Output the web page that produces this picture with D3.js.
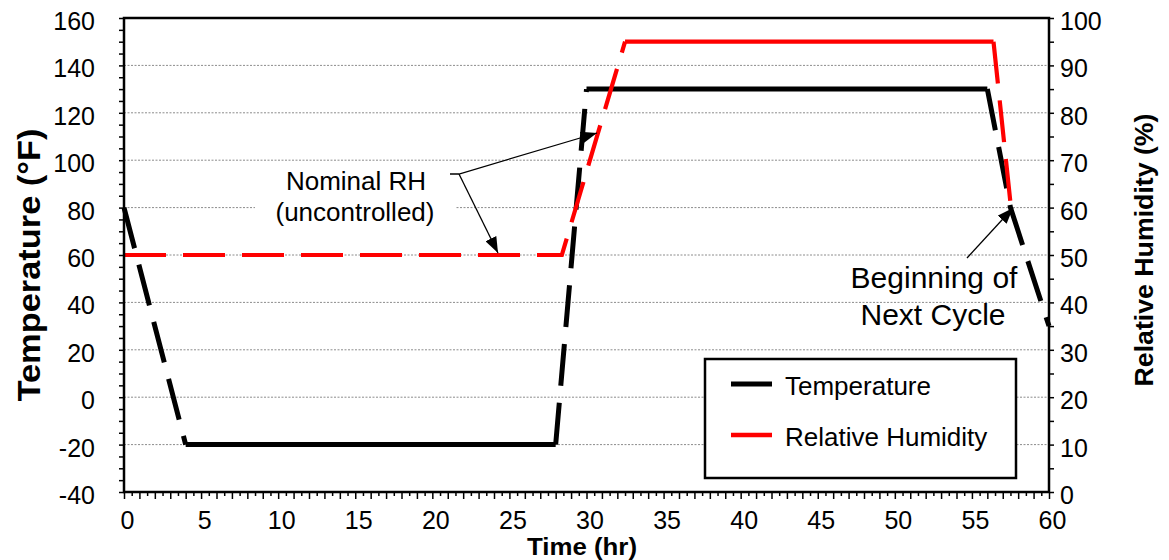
<!DOCTYPE html>
<html>
<head>
<meta charset="utf-8">
<script src="https://cdn.jsdelivr.net/npm/d3@7/dist/d3.min.js"></script>
<style>
  html, body { margin: 0; padding: 0; background: #fff; }
  svg { display: block; font-family: "Liberation Sans", Arial, Helvetica, sans-serif; }
</style>
</head>
<body>
<svg id="chart" width="1169" height="560"></svg>
<script>
// ---- Data ----
const tempTime   = [0, 4, 28, 30, 56, 57.5, 60];
const tempValues = [80, -20, -20, 130, 130, 80, 30];
const tempSolid  = [false, true, false, true, false, false]; // style per segment

const rhTime   = [0, 28.4, 32.5, 56.4, 57.5];
const rhValues = [50, 50, 95, 95, 61];
const rhSolid  = [false, false, true, false];

const xTickLabels    = [0, 5, 10, 15, 20, 25, 30, 35, 40, 45, 50, 55, 60];
const tempTickLabels = [-40, -20, 0, 20, 40, 60, 80, 100, 120, 140, 160];
const rhTickLabels   = [0, 10, 20, 30, 40, 50, 60, 70, 80, 90, 100];
const gridValues     = [-20, 0, 20, 40, 60, 80, 100, 120, 140];

const seriesNames = ["Temperature", "Relative Humidity"];

// ---- Layout ----
const L = 124, R = 1049, T = 18, B = 492;
const svg = d3.select("#chart");
const x = d3.scaleLinear().domain([0, 60]).range([L, R]);
const yT = d3.scaleLinear().domain([-40, 160]).range([B, T]);
const yH = d3.scaleLinear().domain([0, 100]).range([B, T]);
const FONT = 25;

// gridlines
svg.append("g").selectAll("line").data(gridValues).join("line")
  .attr("x1", L).attr("x2", R)
  .attr("y1", d => yT(d)).attr("y2", d => yT(d))
  .attr("stroke", "#8c8c8c").attr("stroke-width", 1)
  .attr("stroke-dasharray", "2,1.5");

// ---- Series drawing helper: groups consecutive segments of equal style ----
function drawSeries(xs, ys, solid, yScale, color, width) {
  const groups = [];
  let cur = null;
  for (let i = 0; i < xs.length - 1; i++) {
    if (!cur || cur.solid !== solid[i]) {
      cur = { solid: solid[i], pts: [[xs[i], ys[i]]] };
      groups.push(cur);
    }
    cur.pts.push([xs[i + 1], ys[i + 1]]);
  }
  const line = d3.line().x(d => x(d[0])).y(d => yScale(d[1]));
  svg.append("g").selectAll("path").data(groups).join("path")
    .attr("d", g => line(g.pts))
    .attr("fill", "none")
    .attr("stroke", color)
    .attr("stroke-width", width)
    .attr("stroke-linejoin", "miter")
    .attr("stroke-dasharray", g => g.solid ? null : "42,17");
}
drawSeries(tempTime, tempValues, tempSolid, yT, "#000000", 5);
drawSeries(rhTime, rhValues, rhSolid, yH, "#ff0000", 4.2);

// ---- Axes ticks ----
const left = svg.append("g").attr("transform", `translate(${L},0)`)
  .call(d3.axisLeft(yT).tickValues(d3.range(-40, 161, 5)).tickSize(5).tickFormat(""));
const right = svg.append("g").attr("transform", `translate(${R},0)`)
  .call(d3.axisRight(yH).tickValues(d3.range(0, 101, 5)).tickSize(5).tickFormat(""));
const bottomMajor = svg.append("g").attr("transform", `translate(0,${B})`)
  .call(d3.axisBottom(x).tickValues(d3.range(0, 61, 1)).tickSize(7).tickFormat(""));
const bottomMinor = svg.append("g").attr("transform", `translate(0,${B})`)
  .call(d3.axisBottom(x).tickValues(d3.range(0.5, 60, 1)).tickSize(4).tickFormat(""));
[left, right, bottomMajor, bottomMinor].forEach(g => {
  g.select(".domain").remove();
  g.selectAll(".tick line").attr("stroke", "#000").attr("stroke-width", 1.5);
});

// plot border
svg.append("rect").attr("x", L).attr("y", T).attr("width", R - L).attr("height", B - T)
  .attr("fill", "none").attr("stroke", "#000").attr("stroke-width", 2.5);

// tick labels
svg.append("g").selectAll("text").data(tempTickLabels).join("text")
  .attr("x", 95).attr("y", d => yT(d) + 12)
  .attr("text-anchor", "end").attr("font-size", FONT).text(d => d);
svg.append("g").selectAll("text").data(rhTickLabels).join("text")
  .attr("x", 1060).attr("y", d => yH(d) + 12)
  .attr("text-anchor", "start").attr("font-size", FONT).text(d => d);
svg.append("g").selectAll("text").data(xTickLabels).join("text")
  .attr("x", d => x(d) + 3.5).attr("y", 528.5)
  .attr("text-anchor", "middle").attr("font-size", FONT).text(d => d);

// axis titles
svg.append("text").attr("transform", "translate(40,265) rotate(-90)")
  .attr("text-anchor", "middle").attr("font-size", 31).attr("font-weight", "bold")
  .attr("textLength", 273).attr("lengthAdjust", "spacingAndGlyphs")
  .text("Temperature (°F)");
svg.append("text").attr("transform", "translate(1153,250) rotate(-90)")
  .attr("text-anchor", "middle").attr("font-size", 25).attr("font-weight", "bold")
  .attr("textLength", 273).attr("lengthAdjust", "spacingAndGlyphs")
  .text("Relative Humidity (%)");
svg.append("text").attr("x", 582).attr("y", 555)
  .attr("text-anchor", "middle").attr("font-size", 23).attr("font-weight", "bold")
  .attr("textLength", 110).attr("lengthAdjust", "spacingAndGlyphs")
  .text("Time (hr)");

// ---- Legend ----
const leg = svg.append("g");
leg.append("rect").attr("x", 705).attr("y", 359).attr("width", 311).attr("height", 119)
  .attr("fill", "#fff").attr("stroke", "#000").attr("stroke-width", 2.5);
const legColors = ["#000000", "#ff0000"];
const legWidths = [5, 4.5];
seriesNames.forEach((name, i) => {
  const cy = 384 + i * 51;
  leg.append("line").attr("x1", 731).attr("x2", 772).attr("y1", cy).attr("y2", cy)
    .attr("stroke", legColors[i]).attr("stroke-width", legWidths[i]);
  leg.append("text").attr("x", 785).attr("y", cy + 11).attr("font-size", 26).text(name);
});

// ---- Annotations ----
const defs = svg.append("defs");
defs.append("marker").attr("id", "arrow")
  .attr("markerUnits", "userSpaceOnUse")
  .attr("viewBox", "0 0 16 12").attr("refX", 16).attr("refY", 6)
  .attr("markerWidth", 16).attr("markerHeight", 12).attr("orient", "auto")
  .append("path").attr("d", "M0,0 L16,6 L0,12 Z").attr("fill", "#000");

// white backdrop behind the "Nominal RH" label
svg.append("rect").attr("x", 255).attr("y", 168).attr("width", 201).attr("height", 62).attr("fill", "#fff");
svg.append("text").attr("x", 356).attr("y", 190).attr("text-anchor", "middle")
  .attr("font-size", 26).text("Nominal RH");
svg.append("text").attr("x", 355).attr("y", 221).attr("text-anchor", "middle")
  .attr("font-size", 26).text("(uncontrolled)");
svg.append("path").attr("d", "M450,174 L459,174 L597,133")
  .attr("fill", "none").attr("stroke", "#000").attr("stroke-width", 1.3)
  .attr("marker-end", "url(#arrow)");
svg.append("path").attr("d", "M459,174 L498,253")
  .attr("fill", "none").attr("stroke", "#000").attr("stroke-width", 1.3)
  .attr("marker-end", "url(#arrow)");

svg.append("text").attr("x", 934).attr("y", 288).attr("text-anchor", "middle")
  .attr("font-size", 30).text("Beginning of");
svg.append("text").attr("x", 933).attr("y", 325).attr("text-anchor", "middle")
  .attr("font-size", 30).text("Next Cycle");
svg.append("path").attr("d", "M967,258 L1013,208")
  .attr("fill", "none").attr("stroke", "#000").attr("stroke-width", 1.3)
  .attr("marker-end", "url(#arrow)");
</script>
</body>
</html>
